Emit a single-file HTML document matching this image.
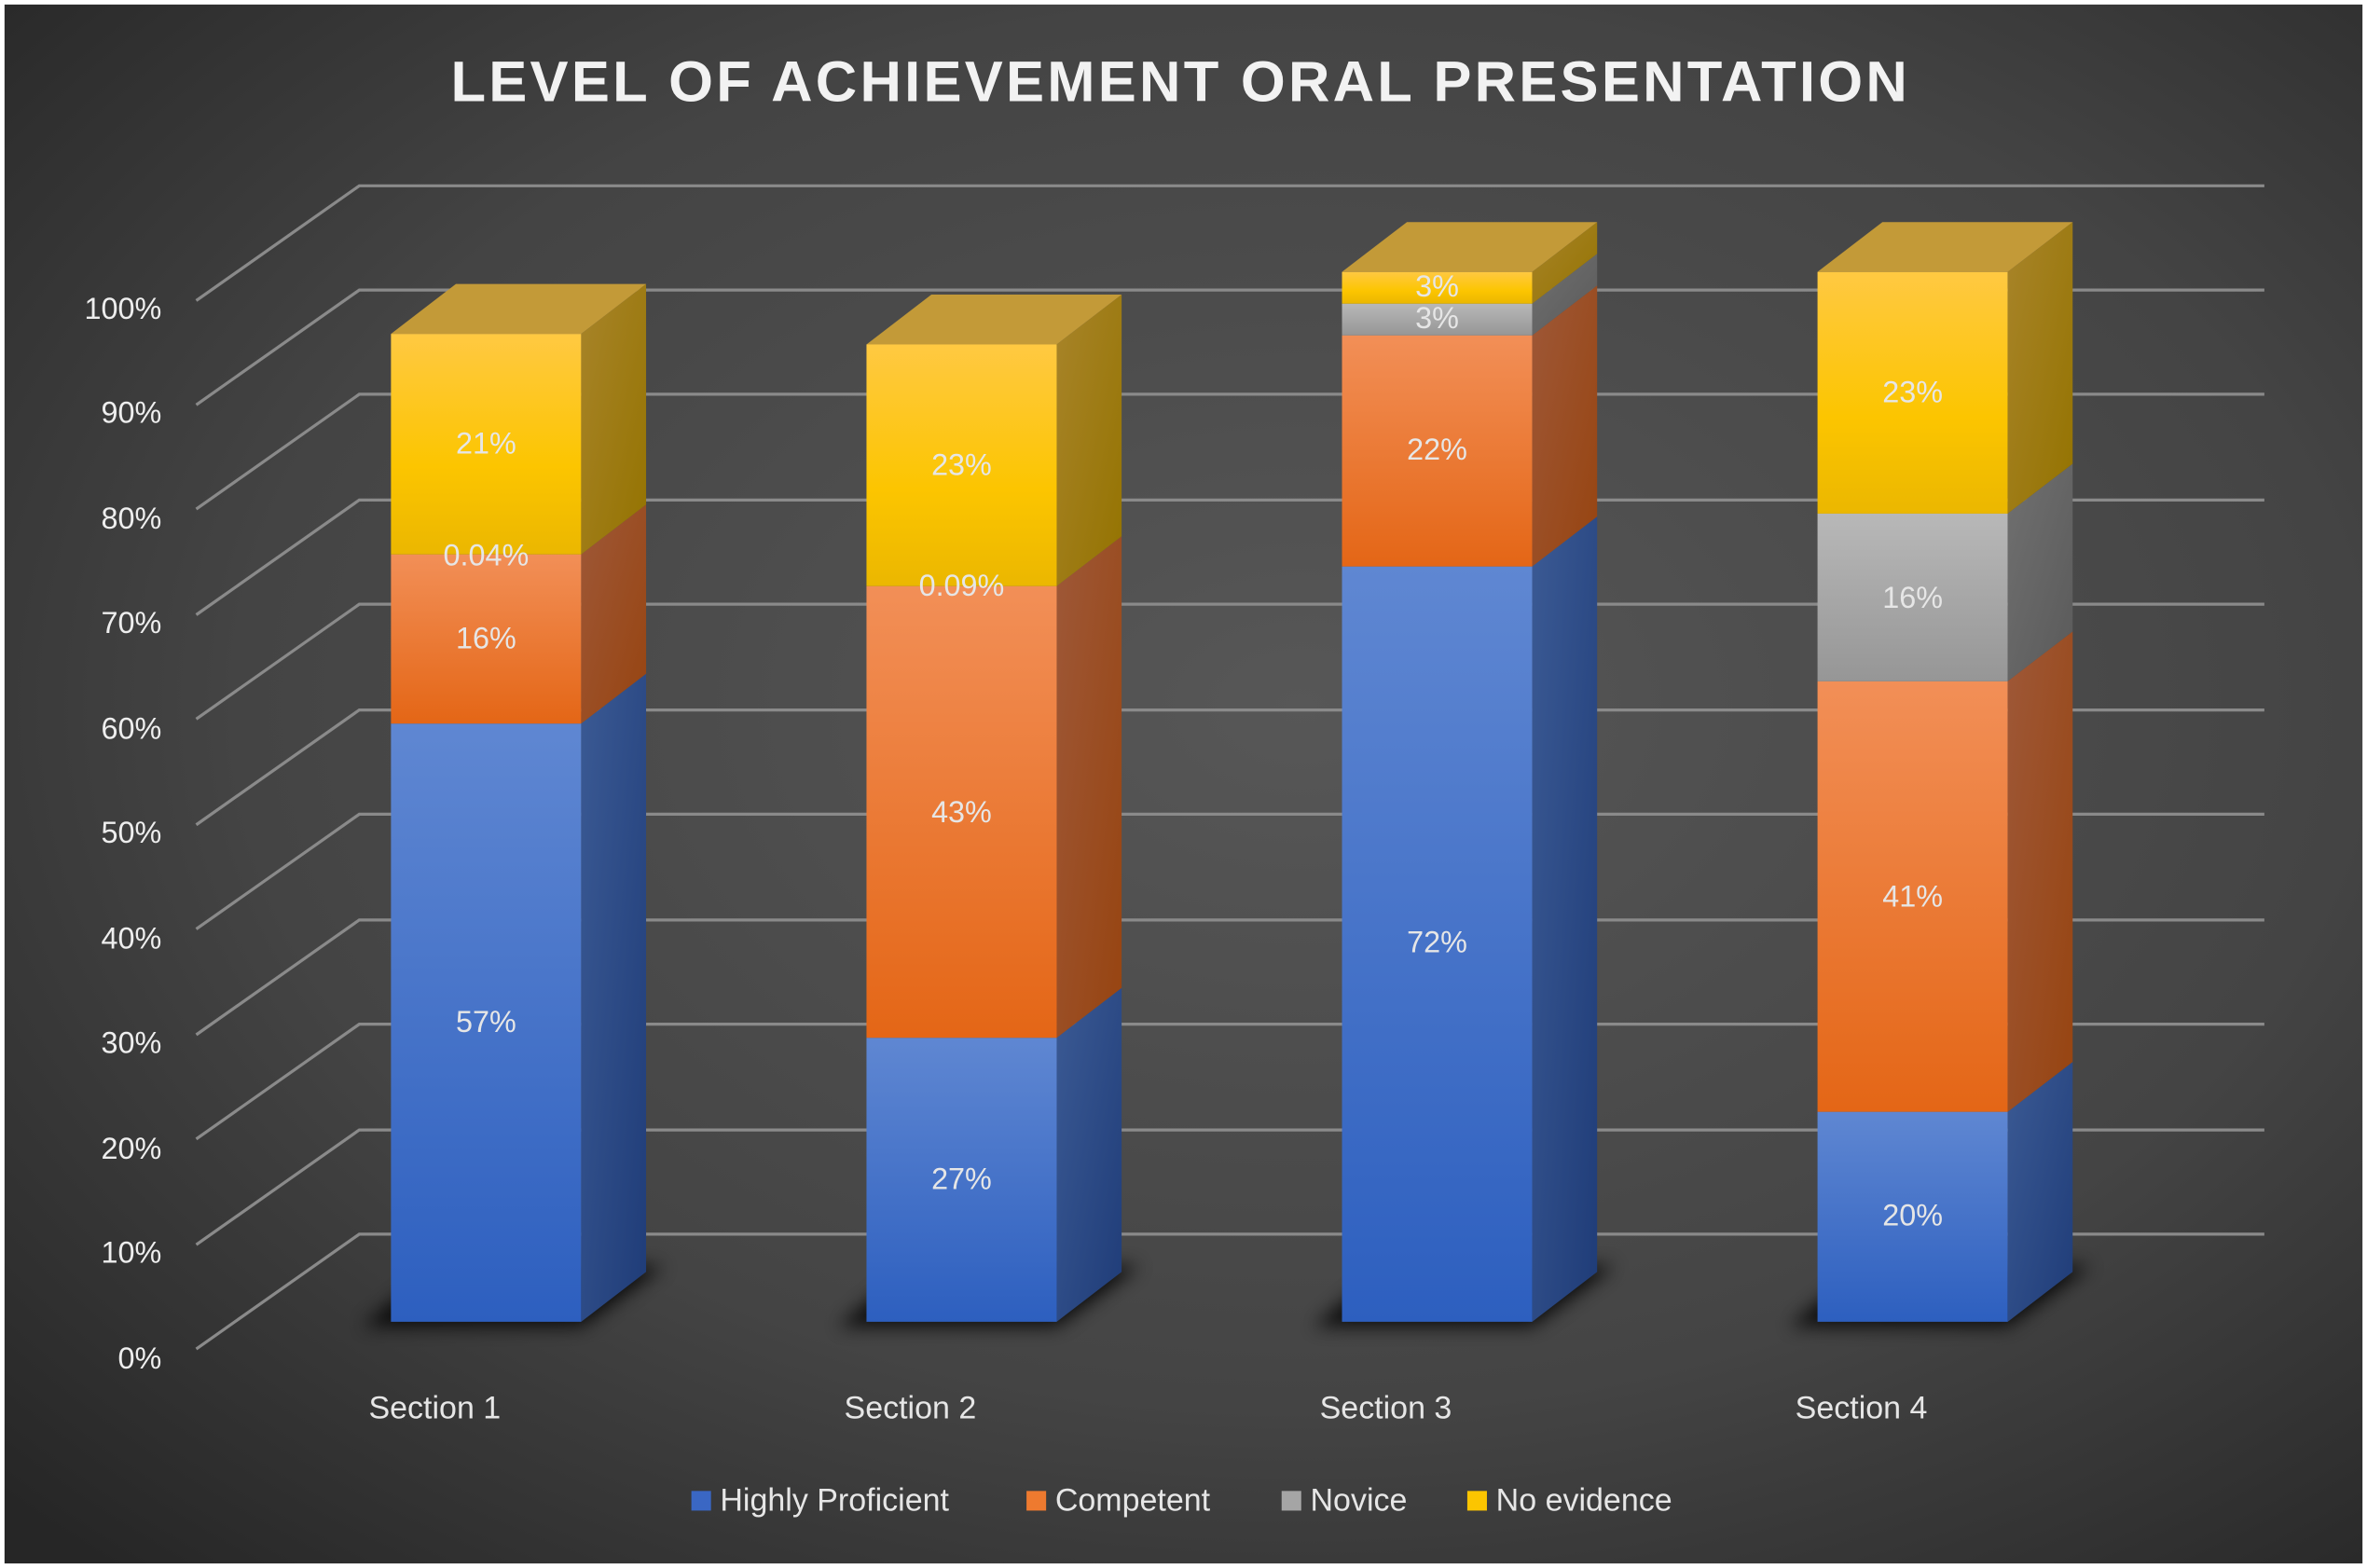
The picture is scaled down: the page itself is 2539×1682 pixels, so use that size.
<!DOCTYPE html>
<html><head><meta charset="utf-8"><style>
html,body{margin:0;padding:0;background:#fff;}
svg{display:block;}
text{font-family:"Liberation Sans",sans-serif;}
</style></head><body>
<svg width="2539" height="1682" viewBox="0 0 1568 1038" preserveAspectRatio="none" xmlns="http://www.w3.org/2000/svg">
<defs>
<radialGradient id="bg" cx="0.55" cy="0.45" r="0.75">
<stop offset="0" stop-color="#575757"/><stop offset="0.6" stop-color="#444"/><stop offset="1" stop-color="#262626"/></radialGradient>
<linearGradient id="fb" x1="0" y1="0" x2="0" y2="1"><stop offset="0" stop-color="#5f87d2"/><stop offset="1" stop-color="#2d5fbf"/></linearGradient>
<linearGradient id="sb" x1="0" y1="0" x2="1" y2="1"><stop offset="0" stop-color="#3b5a94"/><stop offset="1" stop-color="#1f3c78"/></linearGradient>
<linearGradient id="fo" x1="0" y1="0" x2="0" y2="1"><stop offset="0" stop-color="#f28f57"/><stop offset="1" stop-color="#e46616"/></linearGradient>
<linearGradient id="so" x1="0" y1="0" x2="1" y2="1"><stop offset="0" stop-color="#9e5838"/><stop offset="1" stop-color="#974410"/></linearGradient>
<linearGradient id="fg" x1="0" y1="0" x2="0" y2="1"><stop offset="0" stop-color="#b8b8b8"/><stop offset="1" stop-color="#969696"/></linearGradient>
<linearGradient id="sg" x1="0" y1="0" x2="1" y2="1"><stop offset="0" stop-color="#707070"/><stop offset="1" stop-color="#5a5a5a"/></linearGradient>
<linearGradient id="fy" x1="0" y1="0" x2="0" y2="1"><stop offset="0" stop-color="#ffc942"/><stop offset="0.6" stop-color="#fcc500"/><stop offset="1" stop-color="#ebb700"/></linearGradient>
<linearGradient id="sy" x1="0" y1="0" x2="1" y2="1"><stop offset="0" stop-color="#a8842a"/><stop offset="1" stop-color="#947300"/></linearGradient>
<filter id="blur" x="-0.3" y="-1" width="1.6" height="3"><feGaussianBlur stdDeviation="6"/></filter>
</defs>
<rect x="0" y="0" width="1568" height="1038" fill="#fff"/>
<rect x="3" y="3" width="1562" height="1032" fill="url(#bg)"/>
<text x="782" y="67" fill="#f2f2f2" font-size="38" font-weight="bold" text-anchor="middle" letter-spacing="2">LEVEL OF ACHIEVEMENT ORAL PRESENTATION</text>
<g stroke="#8a8a8a" stroke-width="2" fill="none">
<path d="M130 893 L238 817 L1500 817"/>
<path d="M130 824 L238 748 L1500 748"/>
<path d="M130 754 L238 678 L1500 678"/>
<path d="M130 685 L238 609 L1500 609"/>
<path d="M130 615 L238 539 L1500 539"/>
<path d="M130 546 L238 470 L1500 470"/>
<path d="M130 476 L238 400 L1500 400"/>
<path d="M130 407 L238 331 L1500 331"/>
<path d="M130 337 L238 261 L1500 261"/>
<path d="M130 268 L238 192 L1500 192"/>
<path d="M130 199 L238 123 L1500 123"/>
</g>
<g fill="#eee" font-size="20" text-anchor="end">
<text x="107" y="906">0%</text><text x="107" y="836">10%</text><text x="107" y="767">20%</text><text x="107" y="697">30%</text><text x="107" y="628">40%</text><text x="107" y="558">50%</text><text x="107" y="489">60%</text><text x="107" y="419">70%</text><text x="107" y="350">80%</text><text x="107" y="280">90%</text><text x="107" y="211">100%</text>
</g>
<g fill="#000" opacity="0.85" filter="url(#blur)">
<polygon points="240,878 385,878 440,838 290,838"/>
<polygon points="555,878 700,878 755,838 605,838"/>
<polygon points="870,878 1015,878 1070,838 920,838"/>
<polygon points="1185,878 1330,878 1385,838 1235,838"/>
</g>
<!-- Bar 1 -->
<g>
<rect x="259" y="479" width="126" height="396" fill="url(#fb)"/><polygon points="385,479 428,446 428,842 385,875" fill="url(#sb)"/>
<rect x="259" y="367" width="126" height="112" fill="url(#fo)"/><polygon points="385,367 428,334 428,446 385,479" fill="url(#so)"/>
<rect x="259" y="221" width="126" height="146" fill="url(#fy)"/><polygon points="385,221 428,188 428,334 385,367" fill="url(#sy)"/>
<polygon points="259,221 302,188 428,188 385,221" fill="#c39a38"/>
</g>
<!-- Bar 2 -->
<g>
<rect x="574" y="687" width="126" height="188" fill="url(#fb)"/><polygon points="700,687 743,654 743,842 700,875" fill="url(#sb)"/>
<rect x="574" y="388" width="126" height="299" fill="url(#fo)"/><polygon points="700,388 743,355 743,654 700,687" fill="url(#so)"/>
<rect x="574" y="228" width="126" height="160" fill="url(#fy)"/><polygon points="700,228 743,195 743,355 700,388" fill="url(#sy)"/>
<polygon points="574,228 617,195 743,195 700,228" fill="#c39a38"/>
</g>
<!-- Bar 3 -->
<g>
<rect x="889" y="375" width="126" height="500" fill="url(#fb)"/><polygon points="1015,375 1058,342 1058,842 1015,875" fill="url(#sb)"/>
<rect x="889" y="222" width="126" height="153" fill="url(#fo)"/><polygon points="1015,222 1058,189 1058,342 1015,375" fill="url(#so)"/>
<rect x="889" y="201" width="126" height="21" fill="url(#fg)"/><polygon points="1015,201 1058,168 1058,189 1015,222" fill="url(#sg)"/>
<rect x="889" y="180" width="126" height="21" fill="url(#fy)"/><polygon points="1015,180 1058,147 1058,168 1015,201" fill="url(#sy)"/>
<polygon points="889,180 932,147 1058,147 1015,180" fill="#c39a38"/>
</g>
<!-- Bar 4 -->
<g>
<rect x="1204" y="736" width="126" height="139" fill="url(#fb)"/><polygon points="1330,736 1373,703 1373,842 1330,875" fill="url(#sb)"/>
<rect x="1204" y="451" width="126" height="285" fill="url(#fo)"/><polygon points="1330,451 1373,418 1373,703 1330,736" fill="url(#so)"/>
<rect x="1204" y="340" width="126" height="111" fill="url(#fg)"/><polygon points="1330,340 1373,307 1373,418 1330,451" fill="url(#sg)"/>
<rect x="1204" y="180" width="126" height="160" fill="url(#fy)"/><polygon points="1330,180 1373,147 1373,307 1330,340" fill="url(#sy)"/>
<polygon points="1204,180 1247,147 1373,147 1330,180" fill="#c39a38"/>
</g>
<g fill="#e6e6e6" font-size="20" text-anchor="middle" dominant-baseline="middle">
<text x="322" y="678">57%</text><text x="322" y="424">16%</text><text x="322" y="369">0.04%</text><text x="322" y="295">21%</text>
<text x="637" y="782">27%</text><text x="637" y="539">43%</text><text x="637" y="389">0.09%</text><text x="637" y="309">23%</text>
<text x="952" y="625">72%</text><text x="952" y="299">22%</text><text x="952" y="212">3%</text><text x="952" y="191">3%</text>
<text x="1267" y="806">20%</text><text x="1267" y="595">41%</text><text x="1267" y="397">16%</text><text x="1267" y="261">23%</text>
</g>
<g fill="#e6e6e6" font-size="21" text-anchor="middle">
<text x="288" y="939">Section 1</text><text x="603" y="939">Section 2</text><text x="918" y="939">Section 3</text><text x="1233" y="939">Section 4</text>
</g>
<g font-size="21" fill="#e6e6e6">
<rect x="458" y="987" width="13" height="13" fill="#3a67c4"/><text x="477" y="1000">Highly Proficient</text>
<rect x="680" y="987" width="13" height="13" fill="#ee7a2f"/><text x="699" y="1000">Competent</text>
<rect x="849" y="987" width="13" height="13" fill="#a5a5a5"/><text x="868" y="1000">Novice</text>
<rect x="972" y="987" width="13" height="13" fill="#fcc500"/><text x="991" y="1000">No evidence</text>
</g>
</svg>
</body></html>
